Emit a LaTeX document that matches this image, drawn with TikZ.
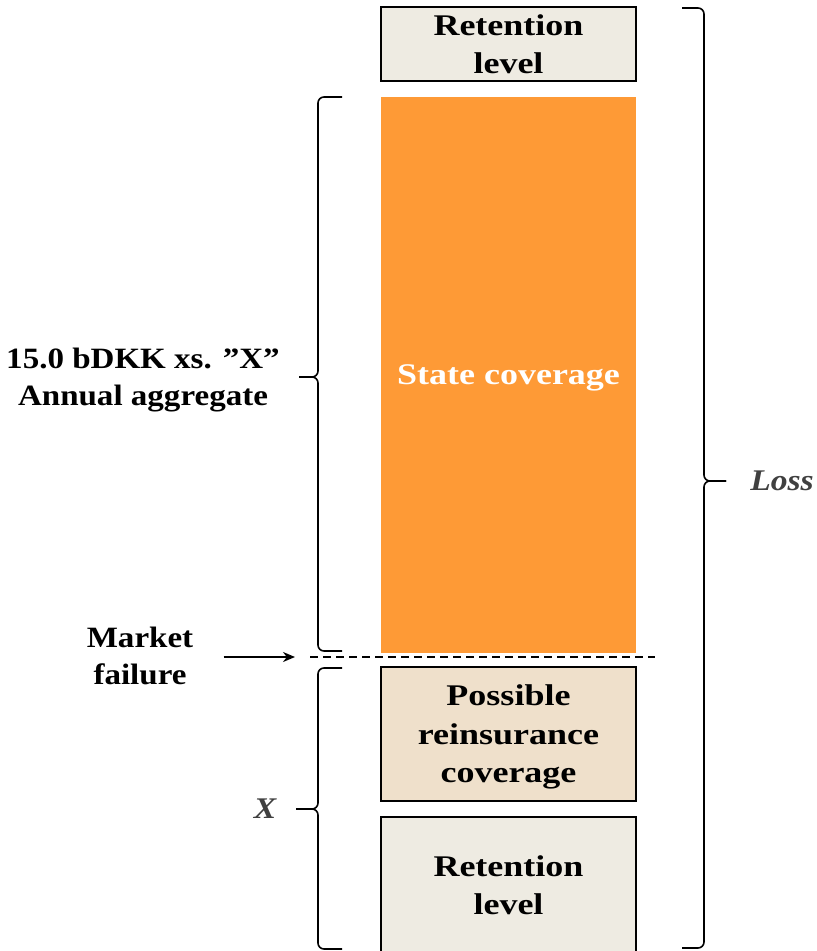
\documentclass[tikz,border=0pt]{standalone}
\usepackage{fontspec}
\setmainfont{Liberation Serif}[FakeStretch=1.2]
\newfontfamily\sidefont{Liberation Serif}[FakeStretch=1.12]
\usepackage{xcolor}
\usepackage{tikz}
\usetikzlibrary{arrows.meta}

\definecolor{retfill}{HTML}{EEEBE2}
\definecolor{reinsfill}{HTML}{EFE0CB}
\definecolor{stateorange}{HTML}{FE9A36}
\definecolor{lblgray}{HTML}{404040}

\begin{document}
\begin{tikzpicture}[
        x=1pt, y=-1pt,
        layer/.style={
            draw=black, line width=2.3pt, minimum width=255pt,
            align=center, inner sep=0pt, text depth=0pt,
            font=\bfseries\fontsize{30}{38.5}\selectfont
        },
        sidelbl/.style={align=center, text depth=0pt, font=\sidefont\bfseries\fontsize{29.5}{37}\selectfont},
        axislbl/.style={text=lblgray, font=\sidefont\bfseries\itshape\fontsize{30}{37}\selectfont},
        curly/.style={line width=1.6pt, rounded corners=6pt},
        ]
        \useasboundingbox (0,0) rectangle (817,951);

        \node[layer, fill=retfill, minimum height=74pt] (topret) at (508.5,44) {Retention\\level};
        \node[layer, draw=none, fill=stateorange, text=white, minimum height=556pt] (state) at (508.5,375) {State coverage};
        \node[layer, fill=reinsfill, minimum height=134pt] (reins) at (508.5,734) {Possible\\reinsurance\\coverage};
        \node[layer, fill=retfill, minimum height=136pt] (botret) at (508.5,885) {Retention\\level};

        \node[sidelbl] (aggr) at (143,377) {15.0 bDKK xs. ”X”\\Annual aggregate};
        \node[sidelbl] (marketlbl) at (140,656) {Market\\failure};
        \node[axislbl] (loss) at (782,481) {Loss};
        \node[axislbl] (xlbl) at (265,809) {X};

        % market failure line
        \coordinate (dashl) at (310,657);
        \coordinate (dashr) at (655,657);
        \coordinate (failpt) at (295,657);
        \draw[line width=1.5pt, dash pattern=on 8pt off 5pt] (dashl) -- (dashr);
        \draw[line width=2pt, -{Stealth[length=12pt, width=10pt]}] ([xshift=27pt]marketlbl.east |- failpt) -- (failpt);

        % braces
        \draw[curly] (342,97) -- (318,97) -- (318,377) -- (299,377);
        \draw[curly] (342,651) -- (318,651) -- (318,377) -- (299,377);
        \draw[curly] (342,668) -- (318,668) -- (318,809) -- (296,809);
        \draw[curly] (342,949) -- (318,949) -- (318,809) -- (296,809);
        \draw[curly] (682,8) -- (704,8) -- (704,481) -- (726,481);
        \draw[curly] (682,948) -- (704,948) -- (704,481) -- (726,481);
    \end{tikzpicture}
\end{document}
